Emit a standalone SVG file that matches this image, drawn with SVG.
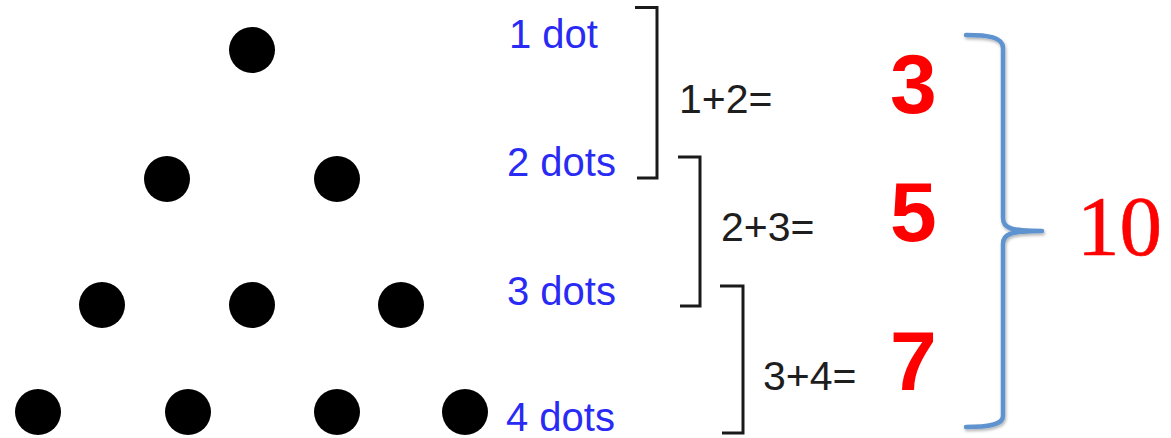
<svg xmlns="http://www.w3.org/2000/svg" width="1171" height="438" viewBox="0 0 1171 438">
<defs>
<style>
.dot{fill:#000}
.lbl{font-family:"Liberation Sans",Arial,sans-serif;font-size:40px;fill:#2a2af5}
.eq{font-family:"Liberation Sans",Arial,sans-serif;font-size:41px;fill:#1e1e1e}
.res{font-family:"Liberation Sans",Arial,sans-serif;font-size:84px;font-weight:bold;fill:#ff0000}
.tot{font-family:"Liberation Serif","Times New Roman",serif;font-size:85px;fill:#ff0000;stroke:#ff0000;stroke-width:0.6}
.brk{fill:none;stroke:#1a1a1a;stroke-width:3}
.brace{fill:none;stroke:#5e93cf;stroke-width:4.5;stroke-linecap:round;stroke-linejoin:round}
</style>
<filter id="sh" x="-50%" y="-10%" width="200%" height="120%">
<feDropShadow dx="1" dy="2" stdDeviation="1.5" flood-color="#000" flood-opacity="0.3"/>
</filter>
</defs>
<rect width="1171" height="438" fill="#fff"/>
<g id="dots">
<circle class="dot" cx="252" cy="50" r="23"/>
<circle class="dot" cx="167" cy="179" r="23"/>
<circle class="dot" cx="337" cy="179" r="23"/>
<circle class="dot" cx="102" cy="305" r="23"/>
<circle class="dot" cx="252" cy="305" r="23"/>
<circle class="dot" cx="401" cy="305" r="23"/>
<circle class="dot" cx="38" cy="412" r="23"/>
<circle class="dot" cx="188" cy="412" r="23"/>
<circle class="dot" cx="337" cy="412" r="23"/>
<circle class="dot" cx="465" cy="412" r="23"/>
</g>
<g id="labels">
<text class="lbl" x="509" y="48">1 dot</text>
<text class="lbl" x="507" y="176">2 dots</text>
<text class="lbl" x="507" y="305">3 dots</text>
<text class="lbl" x="506" y="431">4 dots</text>
</g>
<g id="connectors">
<path class="brk" d="M635,7.5 H657 V178 H637"/>
<path class="brk" d="M678,157 H700 V306 H680"/>
<path class="brk" d="M720,286 H743 V433 H722"/>
<path class="brace" filter="url(#sh)" d="M966,35 C988,35 1003,37 1003,48 L1003,218 C1003,228 1010,231 1042,231 C1010,231 1003,234 1003,244 L1003,416 C1003,425 988,427 966,427"/>
</g>
<g id="equations">
<text class="eq" x="679" y="113">1+2=</text>
<text class="eq" x="721" y="241">2+3=</text>
<text class="eq" x="763" y="390">3+4=</text>
</g>
<g id="results">
<text class="res" x="890" y="113">3</text>
<text class="res" x="890" y="241">5</text>
<text class="res" x="890" y="390">7</text>
<text class="tot" x="1077" y="255">10</text>
</g>
</svg>
